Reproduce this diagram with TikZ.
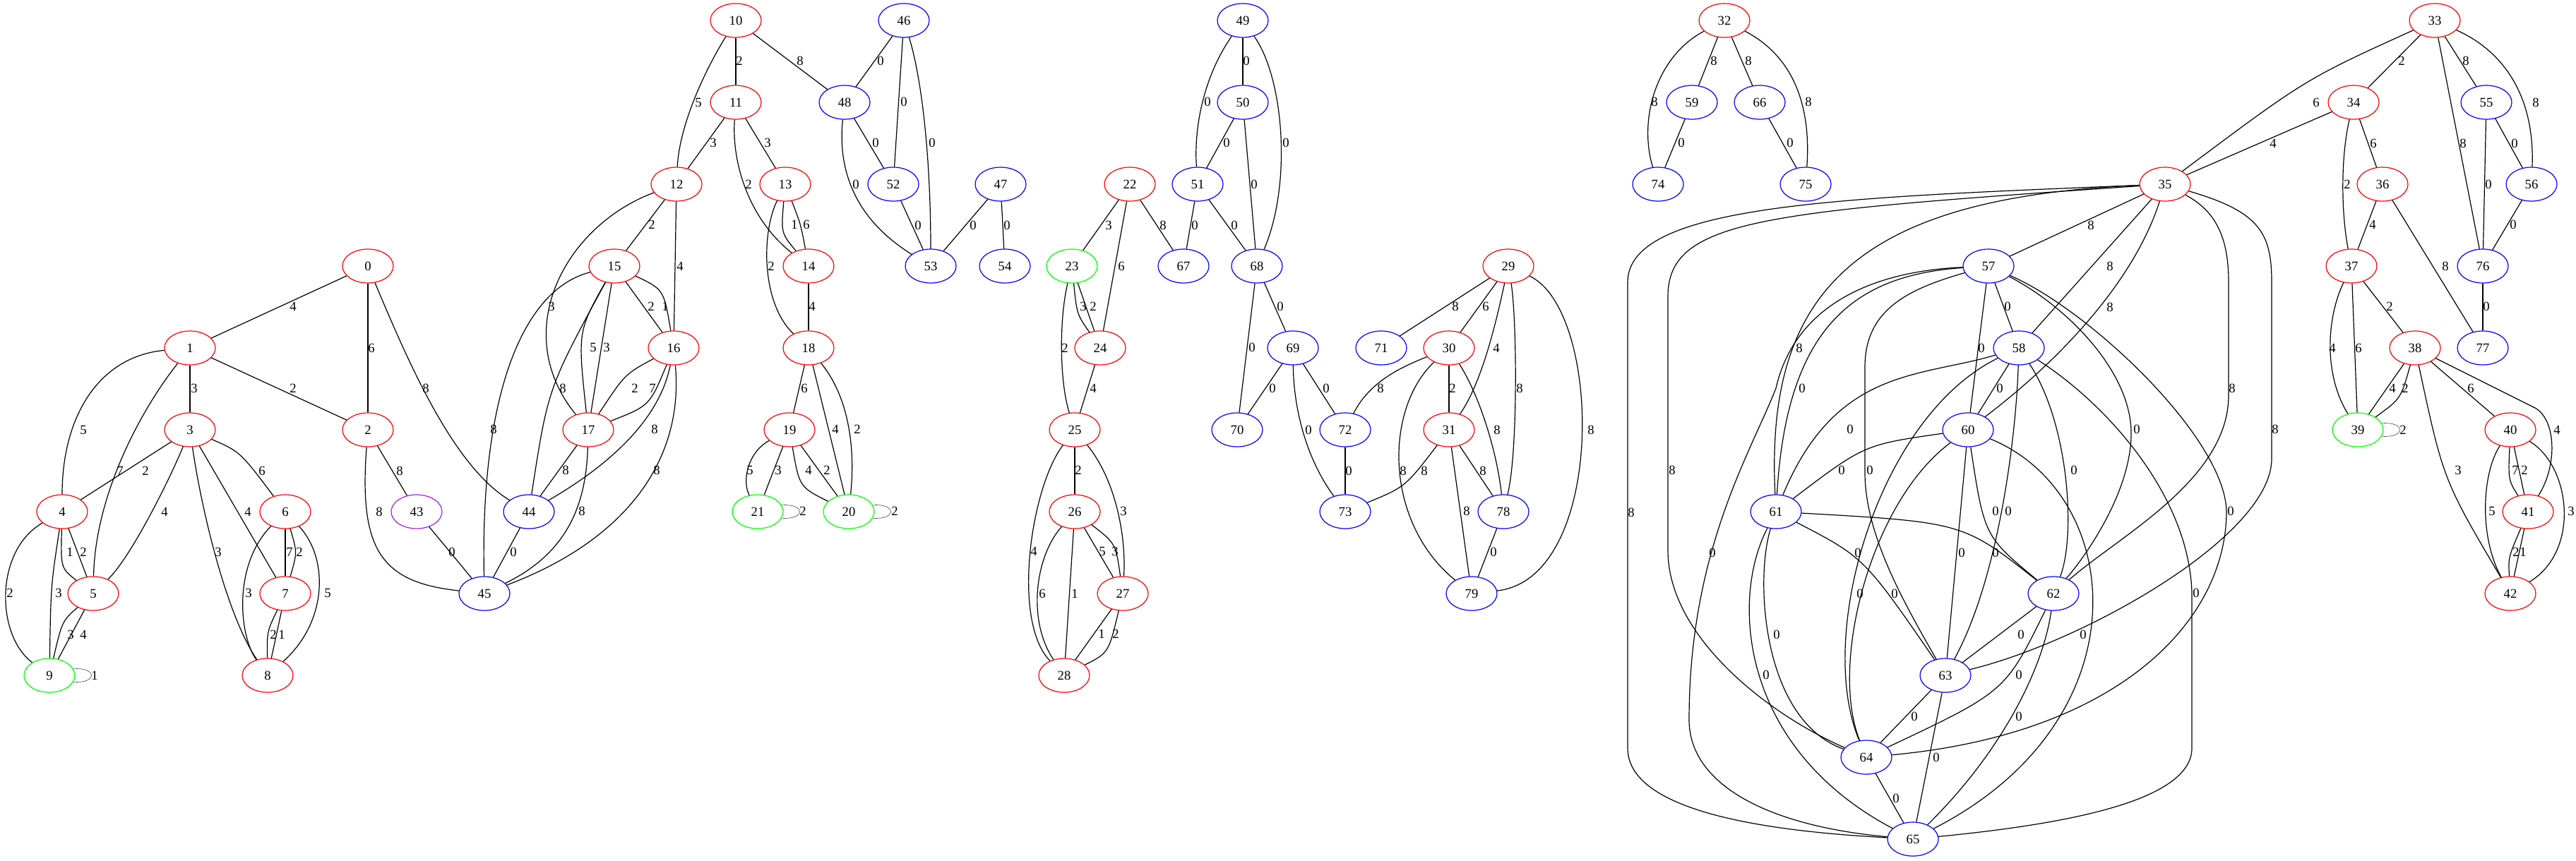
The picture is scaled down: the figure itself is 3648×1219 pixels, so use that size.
\documentclass[tikz,border=0pt]{standalone}
\usepackage{fontspec}
\setmainfont{Liberation Serif}
\usetikzlibrary{shapes.geometric}
\definecolor{gvred}{RGB}{255,0,0}
\definecolor{gvblue}{RGB}{0,0,255}
\definecolor{gvgreen}{RGB}{0,255,0}
\definecolor{gvpurple}{RGB}{160,32,240}
\newcommand\gvfont{\fontsize{18.7}{20}\selectfont}
\begin{document}
\begin{tikzpicture}[x=1pt,y=1pt,
 nd/.style={ellipse, minimum width=72pt, minimum height=48pt, inner sep=0pt, line width=1.2pt, font=\gvfont},
 rn/.style={nd, draw=gvred},
 bn/.style={nd, draw=gvblue},
 gn/.style={nd, draw=gvgreen},
 pn/.style={nd, draw=gvpurple},
 ed/.style={line width=1.2pt},
 lp/.style={line width=1.2pt, out=5, in=-5, distance=34pt},
 lb/.style={font=\gvfont, inner sep=0pt}]
\path[use as bounding box, fill=white] (0,0) rectangle (3648,-1219);
% nodes
\node[rn] (n0) at (521,-377) {0};
\node[rn] (n1) at (269,-493) {1};
\node[rn] (n2) at (521,-609) {2};
\node[rn] (n3) at (269,-609) {3};
\node[rn] (n4) at (88,-725) {4};
\node[rn] (n5) at (132,-841) {5};
\node[rn] (n6) at (404,-725) {6};
\node[rn] (n7) at (404,-841) {7};
\node[rn] (n8) at (379,-957) {8};
\node[gn] (n9) at (70,-957) {9};
\node[rn] (n10) at (1042,-29) {10};
\node[rn] (n11) at (1042,-145) {11};
\node[rn] (n12) at (958,-261) {12};
\node[rn] (n13) at (1112,-261) {13};
\node[rn] (n14) at (1145,-377) {14};
\node[rn] (n15) at (870,-377) {15};
\node[rn] (n16) at (954,-493) {16};
\node[rn] (n17) at (833,-609) {17};
\node[rn] (n18) at (1145,-493) {18};
\node[rn] (n19) at (1118,-609) {19};
\node[gn] (n20) at (1202,-725) {20};
\node[gn] (n21) at (1073,-725) {21};
\node[rn] (n22) at (1600,-261) {22};
\node[gn] (n23) at (1518,-377) {23};
\node[rn] (n24) at (1558,-493) {24};
\node[rn] (n25) at (1522,-609) {25};
\node[rn] (n26) at (1522,-725) {26};
\node[rn] (n27) at (1590,-841) {27};
\node[rn] (n28) at (1507,-957) {28};
\node[rn] (n29) at (2136,-377) {29};
\node[rn] (n30) at (2052,-493) {30};
\node[rn] (n31) at (2052,-609) {31};
\node[rn] (n32) at (2442,-29) {32};
\node[rn] (n33) at (3448,-29) {33};
\node[rn] (n34) at (3333,-145) {34};
\node[rn] (n35) at (3066,-261) {35};
\node[rn] (n36) at (3374,-261) {36};
\node[rn] (n37) at (3330,-377) {37};
\node[rn] (n38) at (3420,-493) {38};
\node[gn] (n39) at (3339,-609) {39};
\node[rn] (n40) at (3555,-609) {40};
\node[rn] (n41) at (3580,-725) {41};
\node[rn] (n42) at (3555,-841) {42};
\node[pn] (n43) at (590,-725) {43};
\node[bn] (n44) at (749,-725) {44};
\node[bn] (n45) at (686,-841) {45};
\node[bn] (n46) at (1280,-29) {46};
\node[bn] (n47) at (1417,-261) {47};
\node[bn] (n48) at (1196,-145) {48};
\node[bn] (n49) at (1760,-29) {49};
\node[bn] (n50) at (1760,-145) {50};
\node[bn] (n51) at (1696,-261) {51};
\node[bn] (n52) at (1265,-261) {52};
\node[bn] (n53) at (1318,-377) {53};
\node[bn] (n54) at (1423,-377) {54};
\node[bn] (n55) at (3521,-145) {55};
\node[bn] (n56) at (3585,-261) {56};
\node[bn] (n57) at (2816,-377) {57};
\node[bn] (n58) at (2859,-493) {58};
\node[bn] (n59) at (2396,-145) {59};
\node[bn] (n60) at (2787,-609) {60};
\node[bn] (n61) at (2515,-725) {61};
\node[bn] (n62) at (2908,-841) {62};
\node[bn] (n63) at (2755,-957) {63};
\node[bn] (n64) at (2643,-1073) {64};
\node[bn] (n65) at (2709,-1189) {65};
\node[bn] (n66) at (2492,-145) {66};
\node[bn] (n67) at (1676,-377) {67};
\node[bn] (n68) at (1780,-377) {68};
\node[bn] (n69) at (1831,-493) {69};
\node[bn] (n70) at (1752,-609) {70};
\node[bn] (n71) at (1956,-493) {71};
\node[bn] (n72) at (1905,-609) {72};
\node[bn] (n73) at (1905,-725) {73};
\node[bn] (n74) at (2348,-261) {74};
\node[bn] (n75) at (2557,-261) {75};
\node[bn] (n76) at (3516,-377) {76};
\node[bn] (n77) at (3516,-493) {77};
\node[bn] (n78) at (2129,-725) {78};
\node[bn] (n79) at (2084,-841) {79};
% ---- cluster 0-9
\draw[ed] (n0) -- (n1) node[lb] at (415,-434) {4};
\draw[ed] (n0) -- (n2) node[lb] at (526,-493) {6};
\draw[ed] (n0) .. controls (575,-505) and (640,-660) .. (n44) node[lb] at (603,-550) {8};
\draw[ed] (n1) -- (n3) node[lb] at (275,-550) {3};
\draw[ed] (n1) -- (n2) node[lb] at (415,-550) {2};
\draw[ed] (n1) .. controls (140,-505) and (88,-590) .. (n4) node[lb] at (118,-609) {5};
\draw[ed] (n1) .. controls (200,-580) and (135,-700) .. (n5) node[lb] at (170,-667) {7};
\draw[ed] (n3) -- (n4) node[lb] at (206,-667) {2};
\draw[ed] (n3) .. controls (240,-680) and (185,-790) .. (n5) node[lb] at (233,-725) {4};
\draw[ed] (n3) .. controls (285,-720) and (320,-870) .. (n8) node[lb] at (309,-782) {3};
\draw[ed] (n3) -- (n7) node[lb] at (351,-725) {4};
\draw[ed] (n3) .. controls (340,-640) .. (n6) node[lb] at (371,-667) {6};
\draw[ed] (n4) .. controls (86,-805) .. (n5) node[lb] at (99,-782) {1};
\draw[ed] (n4) -- (n5) node[lb] at (118,-782) {2};
\draw[ed] (n4) .. controls (-8,-780) and (-6,-900) .. (n9) node[lb] at (14,-840) {2};
\draw[ed] (n4) .. controls (72,-830) .. (n9) node[lb] at (83,-840) {3};
\draw[ed] (n5) .. controls (88,-880) .. (n9) node[lb] at (100,-899) {3};
\draw[ed] (n5) -- (n9) node[lb] at (118,-899) {4};
\draw (n9.15) to[lp] (n9.-15) node[lb] at (134,-957) {1};
\draw[ed] (n6) -- (n7) node[lb] at (410,-782) {7};
\draw[ed] (n6) .. controls (421,-783) .. (n7) node[lb] at (424,-782) {2};
\draw[ed] (n6) .. controls (330,-800) and (338,-900) .. (n8) node[lb] at (352,-840) {3};
\draw[ed] (n6) .. controls (465,-790) and (465,-880) .. (n8) node[lb] at (464,-840) {5};
\draw[ed] (n7) .. controls (378,-895) .. (n8) node[lb] at (387,-899) {2};
\draw[ed] (n7) -- (n8) node[lb] at (399,-899) {1};
\draw[ed] (n2) -- (n43) node[lb] at (566,-667) {8};
\draw[ed] (n2) .. controls (508,-780) and (540,-825) .. (n45) node[lb] at (537,-725) {8};
\draw[ed] (n43) -- (n45) node[lb] at (640,-782) {0};
% ---- cluster 10-21
\draw[ed] (n12) .. controls (800,-320) and (720,-470) .. (n17) node[lb] at (781,-434) {3};
\draw[ed] (n15) .. controls (740,-410) and (680,-560) .. (n45) node[lb] at (699,-608) {8};
\draw[ed] (n15) .. controls (776,-550) .. (n44) node[lb] at (797,-550) {8};
\draw[ed] (n15) .. controls (818,-470) .. (n17) node[lb] at (840,-492) {5};
\draw[ed] (n15) -- (n17) node[lb] at (859,-492) {3};
\draw[ed] (n15) -- (n16) node[lb] at (922,-434) {2};
\draw[ed] (n15) .. controls (940,-410) .. (n16) node[lb] at (942,-434) {1};
\draw[ed] (n12) -- (n16) node[lb] at (963,-377) {4};
\draw[ed] (n16) .. controls (885,-530) .. (n17) node[lb] at (899,-550) {2};
\draw[ed] (n16) .. controls (920,-575) .. (n17) node[lb] at (924,-550) {7};
\draw[ed] (n16) .. controls (935,-590) and (870,-655) .. (n44) node[lb] at (927,-608) {8};
\draw[ed] (n16) .. controls (968,-640) and (900,-760) .. (n45) node[lb] at (930,-666) {8};
\draw[ed] (n17) -- (n44) node[lb] at (801,-666) {8};
\draw[ed] (n17) .. controls (830,-720) and (800,-785) .. (n45) node[lb] at (824,-724) {8};
\draw[ed] (n44) -- (n45) node[lb] at (727,-782) {0};
\draw[ed] (n10) .. controls (995,-105) and (962,-180) .. (n12) node[lb] at (989,-145) {5};
\draw[ed] (n10) -- (n11) node[lb] at (1047,-86) {2};
\draw[ed] (n10) -- (n48) node[lb] at (1133,-86) {8};
\draw[ed] (n11) -- (n12) node[lb] at (1010,-202) {3};
\draw[ed] (n11) -- (n13) node[lb] at (1087,-202) {3};
\draw[ed] (n11) .. controls (1036,-230) and (1060,-310) .. (n14) node[lb] at (1060,-261) {2};
\draw[ed] (n12) -- (n15) node[lb] at (923,-318) {2};
\draw[ed] (n13) .. controls (1106,-330) .. (n14) node[lb] at (1125,-318) {1};
\draw[ed] (n13) .. controls (1134,-318) .. (n14) node[lb] at (1142,-318) {6};
\draw[ed] (n13) .. controls (1078,-330) and (1078,-430) .. (n18) node[lb] at (1092,-377) {2};
\draw[ed] (n14) -- (n18) node[lb] at (1150,-434) {4};
\draw[ed] (n18) -- (n19) node[lb] at (1139,-550) {6};
\draw[ed] (n18) -- (n20) node[lb] at (1183,-608) {4};
\draw[ed] (n18) .. controls (1200,-560) and (1212,-630) .. (n20) node[lb] at (1214,-608) {2};
\draw[ed] (n19) .. controls (1060,-640) and (1050,-680) .. (n21) node[lb] at (1062,-666) {5};
\draw[ed] (n19) -- (n21) node[lb] at (1102,-666) {3};
\draw[ed] (n19) .. controls (1132,-690) .. (n20) node[lb] at (1145,-666) {4};
\draw[ed] (n19) -- (n20) node[lb] at (1171,-666) {2};
\draw (n21.15) to[lp] (n21.-15) node[lb] at (1137,-724) {2};
\draw (n20.15) to[lp] (n20.-15) node[lb] at (1267,-724) {2};
% ---- cluster 22-28
\draw[ed] (n22) -- (n23) node[lb] at (1570,-319) {3};
\draw[ed] (n22) -- (n24) node[lb] at (1588,-377) {6};
\draw[ed] (n22) -- (n67) node[lb] at (1647,-319) {8};
\draw[ed] (n23) .. controls (1500,-450) and (1500,-540) .. (n25) node[lb] at (1508,-493) {2};
\draw[ed] (n23) .. controls (1525,-445) .. (n24) node[lb] at (1534,-434) {3};
\draw[ed] (n23) -- (n24) node[lb] at (1548,-434) {2};
\draw[ed] (n24) -- (n25) node[lb] at (1548,-550) {4};
\draw[ed] (n25) -- (n26) node[lb] at (1527,-666) {2};
\draw[ed] (n25) .. controls (1460,-690) and (1432,-880) .. (n28) node[lb] at (1464,-781) {4};
\draw[ed] (n25) .. controls (1580,-680) and (1595,-760) .. (n27) node[lb] at (1591,-724) {3};
\draw[ed] (n26) .. controls (1465,-790) and (1455,-880) .. (n28) node[lb] at (1476,-841) {6};
\draw[ed] (n26) -- (n28) node[lb] at (1522,-841) {1};
\draw[ed] (n26) -- (n27) node[lb] at (1561,-781) {5};
\draw[ed] (n26) .. controls (1580,-770) .. (n27) node[lb] at (1579,-781) {3};
\draw[ed] (n27) -- (n28) node[lb] at (1560,-898) {1};
\draw[ed] (n27) .. controls (1570,-925) .. (n28) node[lb] at (1580,-898) {2};
% ---- cluster 46-54
\draw[ed] (n46) -- (n48) node[lb] at (1247,-86) {0};
\draw[ed] (n46) -- (n52) node[lb] at (1280,-144) {0};
\draw[ed] (n46) .. controls (1305,-110) and (1318,-220) .. (n53) node[lb] at (1320,-202) {0};
\draw[ed] (n48) -- (n52) node[lb] at (1240,-202) {0};
\draw[ed] (n48) .. controls (1186,-240) and (1210,-310) .. (n53) node[lb] at (1212,-261) {0};
\draw[ed] (n52) -- (n53) node[lb] at (1300,-319) {0};
\draw[ed] (n47) -- (n53) node[lb] at (1378,-319) {0};
\draw[ed] (n47) -- (n54) node[lb] at (1426,-319) {0};
% ---- cluster 49-51, 67-73
\draw[ed] (n49) -- (n50) node[lb] at (1765,-86) {0};
\draw[ed] (n49) .. controls (1710,-100) and (1690,-170) .. (n51) node[lb] at (1710,-144) {0};
\draw[ed] (n49) .. controls (1818,-110) and (1830,-260) .. (n68) node[lb] at (1821,-202) {0};
\draw[ed] (n50) -- (n51) node[lb] at (1737,-202) {0};
\draw[ed] (n50) -- (n68) node[lb] at (1776,-261) {0};
\draw[ed] (n51) -- (n67) node[lb] at (1692,-319) {0};
\draw[ed] (n51) -- (n68) node[lb] at (1748,-319) {0};
\draw[ed] (n68) -- (n69) node[lb] at (1813,-434) {0};
\draw[ed] (n68) -- (n70) node[lb] at (1773,-492) {0};
\draw[ed] (n69) -- (n70) node[lb] at (1802,-550) {0};
\draw[ed] (n69) -- (n72) node[lb] at (1878,-550) {0};
\draw[ed] (n69) .. controls (1832,-580) and (1850,-650) .. (n73) node[lb] at (1853,-609) {0};
\draw[ed] (n72) -- (n73) node[lb] at (1910,-667) {0};
% ---- cluster 29-31, 78-79
\draw[ed] (n29) -- (n71) node[lb] at (2061,-434) {8};
\draw[ed] (n29) -- (n30) node[lb] at (2104,-434) {6};
\draw[ed] (n29) .. controls (2120,-450) and (2100,-540) .. (n31) node[lb] at (2119,-493) {4};
\draw[ed] (n29) .. controls (2148,-450) and (2150,-640) .. (n78) node[lb] at (2152,-550) {8};
\draw[ed] (n29) .. controls (2270,-440) and (2275,-820) .. (n79) node[lb] at (2253,-609) {8};
\draw[ed] (n30) .. controls (1985,-520) and (1940,-540) .. (n72) node[lb] at (1955,-550) {8};
\draw[ed] (n30) -- (n31) node[lb] at (2057,-550) {2};
\draw[ed] (n30) .. controls (1960,-580) and (1960,-740) .. (n79) node[lb] at (1987,-667) {8};
\draw[ed] (n30) .. controls (2095,-560) and (2120,-640) .. (n78) node[lb] at (2120,-609) {8};
\draw[ed] (n31) .. controls (1990,-690) .. (n73) node[lb] at (2017,-667) {8};
\draw[ed] (n31) -- (n78) node[lb] at (2100,-667) {8};
\draw[ed] (n31) -- (n79) node[lb] at (2077,-724) {8};
\draw[ed] (n78) -- (n79) node[lb] at (2115,-782) {0};
% ---- cluster 32
\draw[ed] (n32) -- (n59) node[lb] at (2427,-86) {8};
\draw[ed] (n32) -- (n66) node[lb] at (2476,-86) {8};
\draw[ed] (n32) .. controls (2345,-80) and (2320,-170) .. (n74) node[lb] at (2343,-144) {8};
\draw[ed] (n32) .. controls (2540,-80) and (2565,-150) .. (n75) node[lb] at (2561,-144) {8};
\draw[ed] (n59) -- (n74) node[lb] at (2381,-202) {0};
\draw[ed] (n66) -- (n75) node[lb] at (2535,-202) {0};
% ---- cluster 35, 57-65
\draw[ed] (n35) -- (n57) node[lb] at (2961,-319) {8};
\draw[ed] (n35) -- (n58) node[lb] at (2988,-377) {8};
\draw[ed] (n35) .. controls (3025,-390) and (2930,-500) .. (n60) node[lb] at (2988,-435) {8};
\draw[ed] (n35) .. controls (2620,-280) and (2500,-420) .. (n61) node[lb] at (2548,-493) {8};
\draw[ed] (n35) .. controls (2500,-300) and (2362,-310) .. (2362,-420) -- (2362,-780) .. controls (2362,-900) and (2500,-1010) .. (n64) node[lb] at (2368,-666) {8};
\draw[ed] (n35) .. controls (2600,-280) and (2305,-290) .. (2305,-400) -- (2305,-1060) .. controls (2305,-1160) and (2550,-1180) .. (n65) node[lb] at (2310,-726) {8};
\draw[ed] (n35) .. controls (3140,-300) and (3156,-340) .. (3156,-400) -- (3156,-560) .. controls (3156,-680) and (3000,-760) .. (n62) node[lb] at (3161,-550) {8};
\draw[ed] (n35) .. controls (3200,-300) and (3217,-330) .. (3217,-400) -- (3217,-650) .. controls (3217,-760) and (2950,-910) .. (n63) node[lb] at (3222,-608) {8};
\draw[ed] (n57) -- (n58) node[lb] at (2843,-434) {0};
\draw[ed] (n57) -- (n60) node[lb] at (2806,-493) {0};
\draw[ed] (n57) .. controls (2620,-390) and (2530,-470) .. (n61) node[lb] at (2552,-550) {0};
\draw[ed] (n57) .. controls (2640,-385) and (2540,-440) .. (2515,-550) .. controls (2480,-640) and (2392,-780) .. (2392,-1020) .. controls (2392,-1110) and (2500,-1170) .. (n65) node[lb] at (2425,-783) {0};
\draw[ed] (n57) .. controls (2700,-410) and (2641,-440) .. (2641,-520) -- (2641,-670) .. controls (2641,-760) and (2700,-860) .. (n63) node[lb] at (2648,-666) {0};
\draw[ed] (n57) .. controls (2920,-430) and (3015,-520) .. (3018,-610) .. controls (3020,-690) and (2960,-780) .. (n62) node[lb] at (3026,-608) {0};
\draw[ed] (n57) .. controls (2960,-440) and (3150,-620) .. (3153,-724) .. controls (3153,-880) and (3000,-1040) .. (n64) node[lb] at (3159,-724) {0};
\draw[ed] (n58) -- (n60) node[lb] at (2832,-550) {0};
\draw[ed] (n58) .. controls (2855,-620) and (2830,-820) .. (n63) node[lb] at (2844,-724) {0};
\draw[ed] (n58) .. controls (2930,-600) and (2940,-760) .. (n62) node[lb] at (2937,-666) {0};
\draw[ed] (n58) .. controls (2980,-570) and (3100,-700) .. (3104,-840) -- (3104,-1060) .. controls (3104,-1140) and (2900,-1170) .. (n65) node[lb] at (3110,-840) {0};
\draw[ed] (n58) .. controls (2720,-535) and (2600,-520) .. (n61) node[lb] at (2620,-608) {0};
\draw[ed] (n58) .. controls (2660,-590) and (2570,-900) .. (n64) node[lb] at (2631,-783) {0};
\draw[ed] (n60) .. controls (2640,-630) .. (n61) node[lb] at (2608,-666) {0};
\draw[ed] (n60) -- (n63) node[lb] at (2778,-783) {0};
\draw[ed] (n60) .. controls (2810,-760) .. (n62) node[lb] at (2826,-724) {0};
\draw[ed] (n60) .. controls (2650,-710) and (2590,-940) .. (n64) node[lb] at (2634,-841) {0};
\draw[ed] (n60) .. controls (3010,-700) and (3040,-1020) .. (n65) node[lb] at (2950,-899) {0};
\draw[ed] (n61) .. controls (2780,-740) .. (n62) node[lb] at (2826,-783) {0};
\draw[ed] (n61) .. controls (2640,-790) .. (n63) node[lb] at (2683,-841) {0};
\draw[ed] (n61) .. controls (2485,-820) and (2495,-1020) .. (n64) node[lb] at (2516,-899) {0};
\draw[ed] (n61) .. controls (2450,-850) and (2465,-1060) .. (n65) node[lb] at (2501,-956) {0};
\draw[ed] (n62) -- (n63) node[lb] at (2862,-899) {0};
\draw[ed] (n62) .. controls (2840,-980) .. (n64) node[lb] at (2859,-956) {0};
\draw[ed] (n62) .. controls (2895,-940) and (2840,-1060) .. (n65) node[lb] at (2859,-1015) {0};
\draw[ed] (n63) -- (n64) node[lb] at (2711,-1015) {0};
\draw[ed] (n63) -- (n65) node[lb] at (2742,-1073) {0};
\draw[ed] (n64) -- (n65) node[lb] at (2685,-1131) {0};
% ---- cluster 33-42, 55-56, 76-77
\draw[ed] (n33) .. controls (3265,-112) .. (n35) node[lb] at (3280,-145) {6};
\draw[ed] (n33) -- (n34) node[lb] at (3401,-86) {2};
\draw[ed] (n33) -- (n55) node[lb] at (3492,-86) {8};
\draw[ed] (n33) .. controls (3540,-70) and (3590,-130) .. (n56) node[lb] at (3591,-145) {8};
\draw[ed] (n33) -- (n76) node[lb] at (3488,-203) {8};
\draw[ed] (n34) -- (n35) node[lb] at (3219,-203) {4};
\draw[ed] (n34) -- (n36) node[lb] at (3361,-203) {6};
\draw[ed] (n34) .. controls (3315,-220) and (3315,-300) .. (n37) node[lb] at (3324,-261) {2};
\draw[ed] (n36) -- (n37) node[lb] at (3360,-318) {4};
\draw[ed] (n36) -- (n77) node[lb] at (3463,-377) {8};
\draw[ed] (n55) -- (n76) node[lb] at (3524,-261) {0};
\draw[ed] (n55) -- (n56) node[lb] at (3561,-203) {0};
\draw[ed] (n56) -- (n76) node[lb] at (3559,-318) {0};
\draw[ed] (n76) -- (n77) node[lb] at (3521,-434) {0};
\draw[ed] (n37) -- (n38) node[lb] at (3384,-434) {2};
\draw[ed] (n37) .. controls (3295,-450) and (3290,-530) .. (n39) node[lb] at (3303,-493) {4};
\draw[ed] (n37) -- (n39) node[lb] at (3340,-493) {6};
\draw[ed] (n38) -- (n39) node[lb] at (3388,-550) {4};
\draw[ed] (n38) .. controls (3400,-565) .. (n39) node[lb] at (3406,-550) {2};
\draw (n39.15) to[lp] (n39.-15) node[lb] at (3403,-609) {2};
\draw[ed] (n38) -- (n40) node[lb] at (3499,-550) {6};
\draw[ed] (n38) .. controls (3460,-680) .. (n42) node[lb] at (3481,-666) {3};
\draw[ed] (n38) -- (3590,-578) .. controls (3620,-595) and (3622,-660) .. (n41) node[lb] at (3621,-609) {4};
\draw[ed] (n40) .. controls (3552,-680) .. (n41) node[lb] at (3562,-666) {7};
\draw[ed] (n40) -- (n41) node[lb] at (3575,-666) {2};
\draw[ed] (n40) .. controls (3515,-670) and (3510,-760) .. (n42) node[lb] at (3529,-724) {5};
\draw[ed] (n40) .. controls (3640,-660) and (3655,-780) .. (n42) node[lb] at (3641,-724) {3};
\draw[ed] (n41) .. controls (3552,-790) .. (n42) node[lb] at (3563,-782) {2};
\draw[ed] (n41) -- (n42) node[lb] at (3573,-782) {1};
\end{tikzpicture}
\end{document}
